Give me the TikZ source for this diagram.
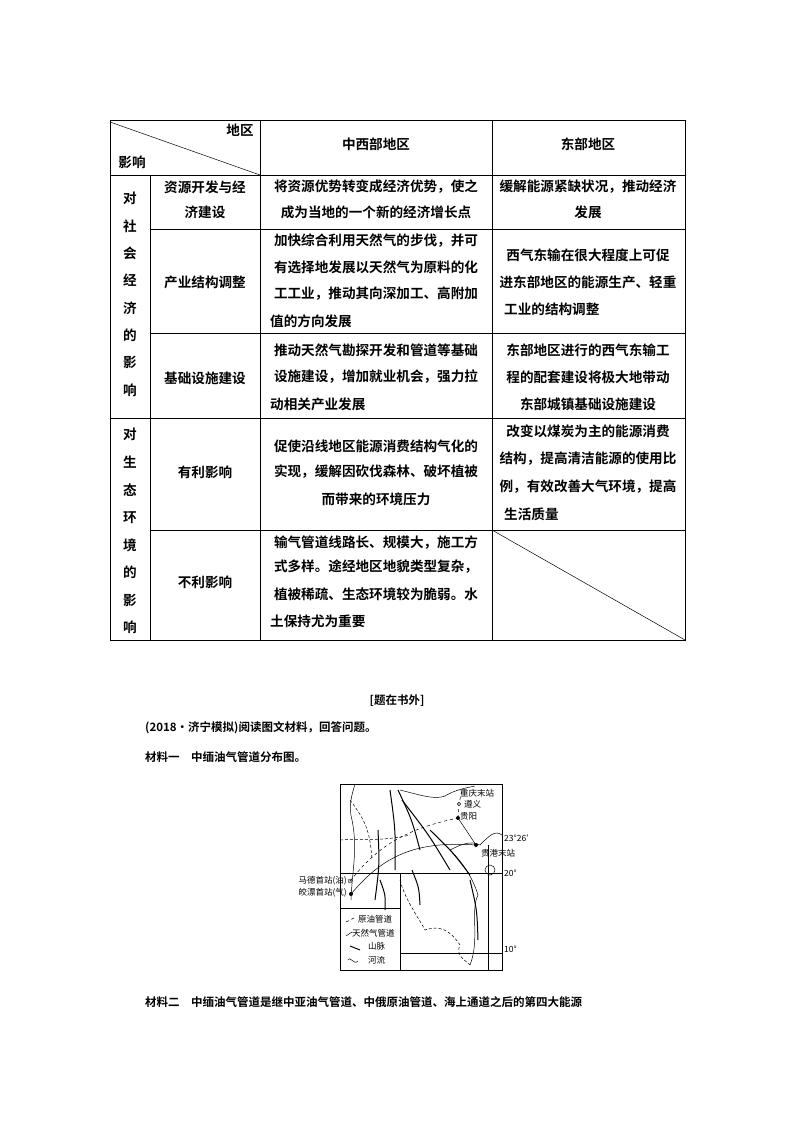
\documentclass[tikz,border=0pt]{standalone}
\usepackage{fontspec}
\setmainfont{Noto Sans CJK SC}[BoldFont={Noto Sans CJK SC Bold}]
\begin{document}
\begin{tikzpicture}[x=1pt,y=-1pt,
 t/.style={font=\bfseries\fontsize{13.6}{14}\selectfont,inner sep=0pt,anchor=center},
 tl/.style={font=\bfseries\fontsize{13.6}{14}\selectfont,inner sep=0pt,anchor=west},
 m/.style={font=\fontsize{8.5}{9}\selectfont,inner sep=0pt},
 gl/.style={line width=0.8pt},
 ml/.style={line width=0.5pt}]
\useasboundingbox (0,0) rectangle (794,1123);
% table grid
\draw[gl] (110,120) rectangle (685,640);
\draw[gl] (110,175)--(685,175);
\draw[gl] (150,229)--(685,229) (150,333)--(685,333) (110,418)--(685,418) (150,530)--(685,530);
\draw[gl] (150,175)--(150,640) (260,120)--(260,640) (492,120)--(492,640);
\draw[ml] (110,122)--(260,175) (492,530)--(685,640);
\node[t] (h1) at (240,130) {地区};
\node[t] (h2) at (132,162) {影响};
\node[t] (h3) at (376,144) {中西部地区};
\node[t] (h4) at (588,144) {东部地区};
\foreach \c [count=\i] in {对,社,会,经,济,的,影,响} \node[t] at (130,171+27.4*\i) {\c};
\foreach \c [count=\i] in {对,生,态,环,境,的,影,响} \node[t] at (130,407+27.6*\i) {\c};
\node[t] (a1) at (205,187) {资源开发与经};
\node[t] (a2) at (205,212) {济建设};
\node[t] (b1) at (205,282) {产业结构调整};
\node[t] (c1) at (205,378) {基础设施建设};
\node[t] (d1) at (205,472) {有利影响};
\node[t] (e1) at (205,582) {不利影响};
\node[t] at (376,187) {将资源优势转变成经济优势，使之};
\node[t] at (376,212) {成为当地的一个新的经济增长点};
\node[t] at (588,187) {缓解能源紧缺状况，推动经济};
\node[t] at (588,212) {发展};
\node[t] at (376,241) {加快综合利用天然气的步伐，并可};
\node[t] at (376,267) {有选择地发展以天然气为原料的化};
\node[t] at (376,294) {工工业，推动其向深加工、高附加};
\node[tl] at (270,321) {值的方向发展};
\node[t] at (588,255) {西气东输在很大程度上可促};
\node[t] at (588,282) {进东部地区的能源生产、轻重};
\node[tl] at (504,309) {工业的结构调整};
\node[t] at (376,350) {推动天然气勘探开发和管道等基础};
\node[t] at (376,377) {设施建设，增加就业机会，强力拉};
\node[tl] at (270,404) {动相关产业发展};
\node[t] at (588,350) {东部地区进行的西气东输工};
\node[t] at (588,377) {程的配套建设将极大地带动};
\node[t] at (588,404) {东部城镇基础设施建设};
\node[t] at (376,446) {促使沿线地区能源消费结构气化的};
\node[t] at (376,472) {实现，缓解因砍伐森林、破坏植被};
\node[t] at (376,499) {而带来的环境压力};
\node[t] at (588,431) {改变以煤炭为主的能源消费};
\node[t] at (588,459) {结构，提高清洁能源的使用比};
\node[t] at (588,487) {例，有效改善大气环境，提高};
\node[tl] at (504,514) {生活质量};
\node[t] at (376,543) {输气管道线路长、规模大，施工方};
\node[t] at (376,567) {式多样。途经地区地貌类型复杂，};
\node[t] at (376,594) {植被稀疏、生态环境较为脆弱。水};
\node[tl] at (270,621) {土保持尤为重要};
% text below
\node[t,font=\bfseries\fontsize{11.5}{12}\selectfont] at (397,701) {[题在书外]};
\node[tl,font=\bfseries\fontsize{11.5}{12}\selectfont] at (145,728) {(2018·济宁模拟)阅读图文材料，回答问题。};
\node[tl,font=\bfseries\fontsize{11.5}{12}\selectfont] at (145,757) {材料一\quad 中缅油气管道分布图。};
\node[tl,font=\bfseries\fontsize{11.5}{12}\selectfont] at (145,1002) {材料二\quad 中缅油气管道是继中亚油气管道、中俄原油管道、海上通道之后的第四大能源};
% map
\draw[ml] (340,784) rectangle (502,970);
\draw[ml] (340,873)--(502,873) (400,873)--(400,970) (340,908)--(400,908) (400,953)--(502,953) (488,845)--(488,970);
\node[m,anchor=west] at (504,873) {20°};
\node[m,anchor=west] at (504,949) {10°};
\node[m,anchor=west] at (504,838) {23°26′};
\node[m,anchor=west] at (460,793) {重庆末站};
\node[m,anchor=west] at (464,804) {遵义};
\node[m,anchor=west] at (460,816) {贵阳};
\node[m,anchor=west] at (481,853) {贵港末站};
\node[m,anchor=east] at (347,881) {马德首站(油)};
\node[m,anchor=east] at (347,893) {皎漂首站(气)};
\fill (351,894) circle (2); \draw (350,881) circle (2); \fill (350,881) circle (0.6);
\fill (458,818) circle (2); \draw (459,804) circle (1.8);
\fill (476,845) circle (2);
\node[m,anchor=west] at (358,919) {原油管道};
\node[m,anchor=west] at (352,933) {天然气管道};
\node[m,anchor=west] at (368,946) {山脉};
\node[m,anchor=west] at (368,960) {河流};
\draw[ml,dashed] (346,922)--(356,917);
\draw[ml] (346,936)--(352,932);
\draw[line width=1pt] (350,946)--(360,950);
\draw[ml] (348,960) .. controls (350,955) and (354,966) .. (358,961);
% coast & features (schematic)
\draw[ml] (351,900) .. controls (352,870) and (358,850) .. (352,820) .. controls (348,805) and (352,795) .. (355,784);
\draw[ml,densely dashed] (400,880) .. controls (405,900) and (420,920) .. (425,930) .. controls (440,925) and (450,930) .. (460,945) .. controls (455,955) and (465,960) .. (470,965);
\draw[ml] (470,965) .. controls (480,940) and (470,910) .. (478,895) .. controls (472,875) and (460,860) .. (450,850);
\draw[ml] (450,850) .. controls (460,845) and (470,840) .. (480,845) .. controls (490,835) and (495,830) .. (502,835);
\draw[ml] (490,870) circle (5);
\draw[ml] (400,790) .. controls (420,795) and (435,800) .. (445,796) .. controls (455,790) and (465,788) .. (475,786);
% pipelines
\draw[ml,dashed] (350,881) .. controls (375,850) and (400,830) .. (458,818);
\draw[ml] (351,894) .. controls (380,860) and (410,840) .. (476,845);
\draw[ml,dashed] (458,818)--(459,804)--(462,790);
\draw[ml] (458,818)--(476,845);
% mountains
\foreach \a/\b/\c/\d in {390/790/395/870, 398/790/420/850, 402/800/450/870, 378/830/375/900, 412/870/420/905, 430/830/470/875, 380/880/385/910, 470/880/478/940}
 \draw[line width=1pt] (\a,\b) .. controls ({(\a+\c)/2+3},{(\b+\d)/2}) .. (\c,\d);
\draw[ml,densely dashed] (340,840)..controls (360,838) and (380,842)..(410,835);
\draw[ml,densely dashed] (350,800)..controls (365,820) and (370,830)..(372,860);
\end{tikzpicture}
\end{document}
